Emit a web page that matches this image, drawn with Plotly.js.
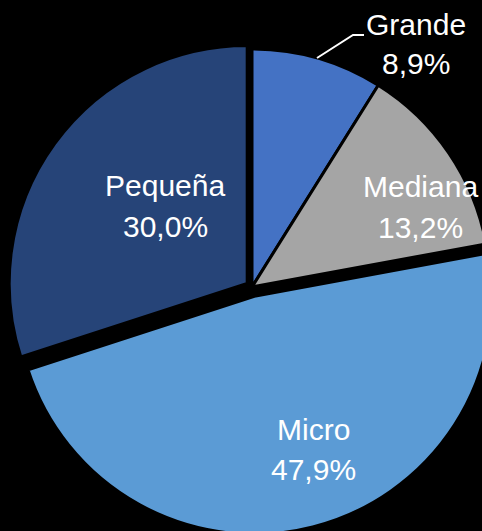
<!DOCTYPE html>
<html>
<head>
<meta charset="utf-8">
<script src="https://cdn.plot.ly/plotly-3.0.1.min.js"></script>
<style>
html,body{margin:0;padding:0;background:#000;overflow:hidden;width:482px;height:531px;}
#chart{position:absolute;left:0;top:0;width:520px;height:550px;}
</style>
</head>
<body>
<div id="chart"></div>
<script>
const categories = ["Grande", "Mediana", "Micro", "Pequeña"];
const shares = [8.9, 13.2, 47.9, 30.0];
const colors = ["#4472C4", "#A5A5A5", "#5B9BD5", "#264478"];
const pulls = [0, 0, 0.04, 0.025];

// label placement (pixel centres of the two text lines) - layout only
const labelX = [416, 420, 313, 165];
const labelY1 = [24.5, 186.5, 429.5, 186];
const labelY2 = [63.5, 227, 469, 226.5];

const W = 520, H = 550;
const px = x => x / W;
const py = y => 1 - y / H;

const total = shares.reduce((a, b) => a + b, 0);
const fmtPct = v => (v / total * 100).toFixed(1).replace(".", ",") + "%";

const font = {family: "Liberation Sans, Arial, sans-serif", size: 30, color: "#ffffff"};

const trace = {
  type: "pie",
  labels: categories,
  values: shares,
  sort: false,
  direction: "clockwise",
  rotation: 0,
  pull: pulls,
  marker: {colors: colors, line: {color: "#000000", width: 3}},
  textinfo: "none",
  hoverinfo: "none",
  showlegend: false,
  domain: {x: [0.00865, 0.9606], y: [0.0282, 0.9282]}
};

const annotations = [];
categories.forEach((c, i) => {
  annotations.push({xref: "paper", yref: "paper", x: px(labelX[i]), y: py(labelY1[i]),
    xanchor: "center", yanchor: "middle", text: c, showarrow: false, font: font});
  annotations.push({xref: "paper", yref: "paper", x: px(labelX[i]), y: py(labelY2[i]),
    xanchor: "center", yanchor: "middle", text: fmtPct(shares[i]), showarrow: false, font: font});
});

const shapes = [{
  type: "path", xref: "paper", yref: "paper",
  path: "M " + px(317) + " " + py(58) + " L " + px(353) + " " + py(35) + " L " + px(364) + " " + py(35),
  line: {color: "#ffffff", width: 2}
}];

const layout = {
  width: W,
  height: H,
  margin: {l: 0, r: 0, t: 0, b: 0},
  paper_bgcolor: "#000000",
  plot_bgcolor: "#000000",
  separators: ",.",
  showlegend: false,
  annotations: annotations,
  shapes: shapes
};

Plotly.newPlot("chart", [trace], layout, {displayModeBar: false, staticPlot: true});
</script>
</body>
</html>
